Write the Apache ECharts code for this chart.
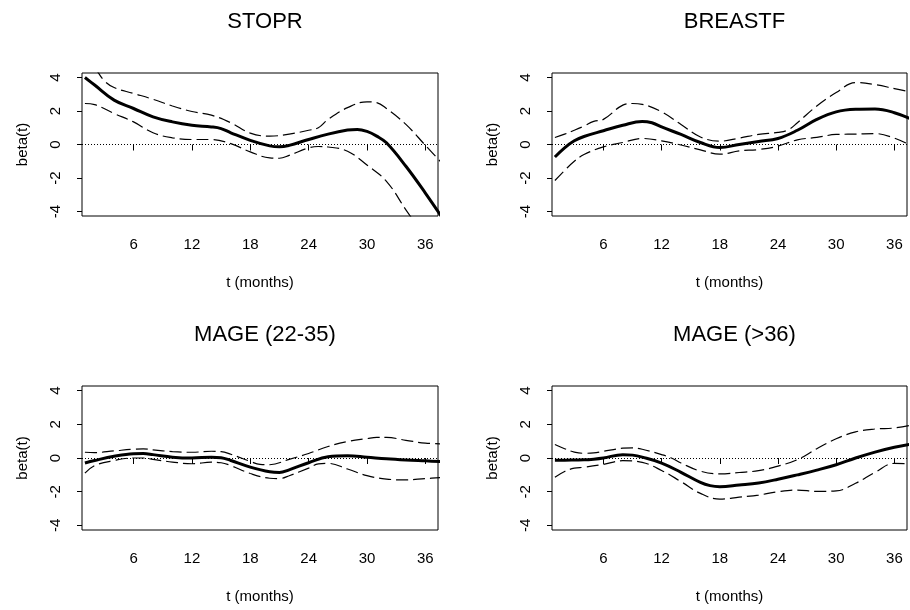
<!DOCTYPE html>
<html>
<head>
<meta charset="utf-8">
<script src="https://cdn.jsdelivr.net/npm/echarts@6/dist/echarts.min.js"></script>
<style>html,body{margin:0;padding:0;background:#fff;}#c{width:910px;height:610px;}</style>
</head>
<body>
<div id="c"></div>
<script>
// ---- data (t in months, beta(t)) ----
const panelTitles = ['STOPR', 'BREASTF', 'MAGE (22-35)', 'MAGE (>36)'];
const xTicks = [6, 12, 18, 24, 30, 36];
const yTicks = [-4, -2, 0, 2, 4];
const xName = 't (months)';
const yName = 'beta(t)';

const stoprEst = [[1,4.0],[2,3.55],[4,2.65],[6,2.15],[8,1.65],[10,1.35],[12,1.15],[14,1.05],[15,0.95],[16,0.7],[18,0.25],[20,-0.08],[21,-0.14],[22,-0.05],[24,0.3],[26,0.62],[28,0.86],[29,0.9],[30,0.78],[31,0.5],[32,0.1],[34,-1.3],[36,-2.9],[38,-4.6]];
const stoprUpper = [[1,5.3],[2,4.6],[3,3.8],[4,3.4],[6,3.05],[8,2.7],[10,2.3],[12,1.97],[14,1.75],[16,1.3],[18,0.68],[20,0.5],[22,0.62],[24,0.85],[25,1.0],[26,1.5],[28,2.2],[30,2.55],[31,2.5],[32,2.15],[34,1.2],[36,-0.05],[38,-1.3]];
const stoprLower = [[1,2.45],[2,2.38],[4,1.85],[6,1.35],[8,0.7],[10,0.4],[12,0.3],[14,0.3],[16,0.05],[18,-0.44],[20,-0.8],[21,-0.82],[22,-0.65],[24,-0.2],[25,-0.12],[26,-0.15],[28,-0.4],[30,-1.23],[32,-2.2],[34,-3.9],[36,-5.6],[38,-7.5]];

const breastfEst = [[1,-0.75],[2,-0.2],[3,0.22],[4,0.48],[6,0.82],[8,1.15],[10,1.38],[11,1.3],[12,1.05],[14,0.6],[16,0.12],[18,-0.18],[20,0.0],[22,0.18],[24,0.36],[26,0.85],[28,1.5],[30,1.95],[32,2.1],[34,2.12],[36,1.9],[38,1.45]];
const breastfUpper = [[1,0.42],[2,0.62],[3,0.85],[4,1.1],[5,1.38],[6,1.5],[8,2.35],[9,2.45],[10,2.4],[12,1.95],[14,1.2],[16,0.45],[18,0.2],[20,0.38],[22,0.6],[24,0.72],[25,0.86],[26,1.3],[28,2.3],[30,3.1],[32,3.7],[34,3.58],[36,3.34],[38,3.1]];
const breastfLower = [[1,-2.15],[2,-1.55],[3,-1.0],[4,-0.6],[6,-0.14],[8,0.12],[10,0.36],[12,0.22],[14,-0.03],[16,-0.32],[18,-0.58],[20,-0.38],[22,-0.3],[24,-0.1],[26,0.28],[28,0.42],[30,0.6],[32,0.62],[34,0.65],[36,0.38],[38,-0.15]];

const mage2235Est = [[1,-0.3],[2,-0.15],[4,0.1],[6,0.25],[7,0.26],[8,0.2],[10,0.05],[12,0.0],[14,0.05],[15,0.02],[16,-0.15],[18,-0.54],[20,-0.82],[21,-0.86],[22,-0.7],[24,-0.28],[26,0.08],[28,0.14],[30,0.05],[32,-0.05],[34,-0.12],[36,-0.17],[38,-0.22]];
const mage2235Upper = [[1,0.34],[2,0.32],[4,0.42],[6,0.52],[7,0.54],[8,0.48],[10,0.38],[12,0.34],[14,0.4],[15,0.38],[16,0.22],[18,-0.2],[19,-0.38],[20,-0.4],[22,-0.08],[24,0.27],[26,0.68],[28,0.98],[30,1.15],[31,1.22],[32,1.22],[34,1.05],[36,0.88],[38,0.84]];
const mage2235Lower = [[1,-0.9],[2,-0.45],[4,-0.15],[6,0.0],[7,0.0],[8,-0.08],[10,-0.24],[12,-0.34],[14,-0.25],[15,-0.28],[16,-0.45],[18,-0.92],[20,-1.2],[21,-1.22],[22,-1.05],[24,-0.6],[25,-0.35],[26,-0.32],[28,-0.65],[30,-1.05],[32,-1.25],[34,-1.3],[36,-1.22],[38,-1.15]];

const mage36Est = [[1,-0.14],[2,-0.13],[4,-0.11],[5,-0.07],[6,0.0],[8,0.2],[9,0.17],[10,0.05],[12,-0.3],[14,-0.85],[16,-1.45],[17,-1.64],[18,-1.7],[20,-1.6],[22,-1.48],[24,-1.26],[26,-1.0],[28,-0.72],[30,-0.4],[32,0.0],[34,0.35],[36,0.64],[38,0.85]];
const mage36Upper = [[1,0.8],[2,0.55],[3,0.35],[4,0.28],[5,0.3],[6,0.4],[8,0.58],[9,0.6],[10,0.52],[12,0.2],[13,0.0],[14,-0.3],[16,-0.78],[18,-0.94],[20,-0.86],[22,-0.75],[24,-0.48],[26,-0.1],[28,0.55],[30,1.14],[32,1.55],[34,1.72],[36,1.78],[38,1.98]];
const mage36Lower = [[1,-1.14],[2,-0.8],[3,-0.6],[4,-0.55],[6,-0.38],[8,-0.16],[10,-0.26],[12,-0.74],[14,-1.4],[16,-2.1],[18,-2.44],[20,-2.32],[22,-2.2],[24,-2.0],[26,-1.9],[28,-1.98],[30,-1.95],[32,-1.5],[34,-0.85],[36,-0.32],[38,-0.35]];

const panels = [
  [stoprEst, stoprUpper, stoprLower],
  [breastfEst, breastfUpper, breastfLower],
  [mage2235Est, mage2235Upper, mage2235Lower],
  [mage36Est, mage36Upper, mage36Lower]
];

// ---- layout ----
const FONT = '"Liberation Sans", Arial, Helvetica, sans-serif';
const gridPos = [
  {left: 82, top: 73, width: 356, height: 143},
  {left: 552, top: 73, width: 355, height: 143},
  {left: 82, top: 386, width: 356, height: 144},
  {left: 552, top: 386, width: 355, height: 144}
];

const grids = [], xAxes = [], yAxes = [], series = [], titles = [];
gridPos.forEach((g, i) => {
  grids.push(Object.assign({show: true, borderColor: '#000', borderWidth: 1, backgroundColor: 'transparent', containLabel: false}, g));
  titles.push({
    text: panelTitles[i],
    left: g.left + g.width / 2,
    top: g.top - 67,
    textAlign: 'center',
    textStyle: {fontFamily: FONT, fontSize: 22, fontWeight: 'normal', color: '#000'}
  });
  xAxes.push({
    type: 'value', gridIndex: i, min: 0.7, max: 37.3,
    axisLine: {show: false},
    splitLine: {show: false},
    axisTick: {show: true, length: 6, customValues: xTicks, lineStyle: {color: '#000', width: 1}},
    axisLabel: {customValues: xTicks, margin: 21, color: '#000', fontFamily: FONT, fontSize: 15},
    name: xName, nameLocation: 'middle', nameGap: 59,
    nameTextStyle: {color: '#000', fontFamily: FONT, fontSize: 15}
  });
  yAxes.push({
    type: 'value', gridIndex: i, min: -4.27, max: 4.27,
    axisLine: {show: false},
    splitLine: {show: false},
    axisTick: {show: true, length: 5, customValues: yTicks, lineStyle: {color: '#000', width: 1}},
    axisLabel: {customValues: yTicks, rotate: 90, margin: 19, color: '#000', fontFamily: FONT, fontSize: 15},
    name: yName, nameLocation: 'middle', nameGap: 52, nameRotate: 90,
    nameTextStyle: {color: '#000', fontFamily: FONT, fontSize: 15}
  });
  const [est, up, lo] = panels[i];
  series.push({
    type: 'line', xAxisIndex: i, yAxisIndex: i, data: est, smooth: 0.4, symbol: 'none', clip: true,
    lineStyle: {color: '#000', width: 3}, z: 3,
    markLine: {silent: true, symbol: 'none', label: {show: false},
      lineStyle: {color: '#000', width: 1, type: [1, 2]}, data: [{yAxis: 0}]}
  });
  [up, lo].forEach(d => series.push({
    type: 'line', xAxisIndex: i, yAxisIndex: i, data: d, smooth: 0.4, symbol: 'none', clip: true,
    lineStyle: {color: '#000', width: 1.2, type: [12, 5]}, z: 2
  }));
});

const chart = echarts.init(document.getElementById('c'), null, {renderer: 'canvas'});
chart.setOption({
  animation: false,
  backgroundColor: '#fff',
  title: titles,
  grid: grids,
  xAxis: xAxes,
  yAxis: yAxes,
  series: series
});
</script>
</body>
</html>
